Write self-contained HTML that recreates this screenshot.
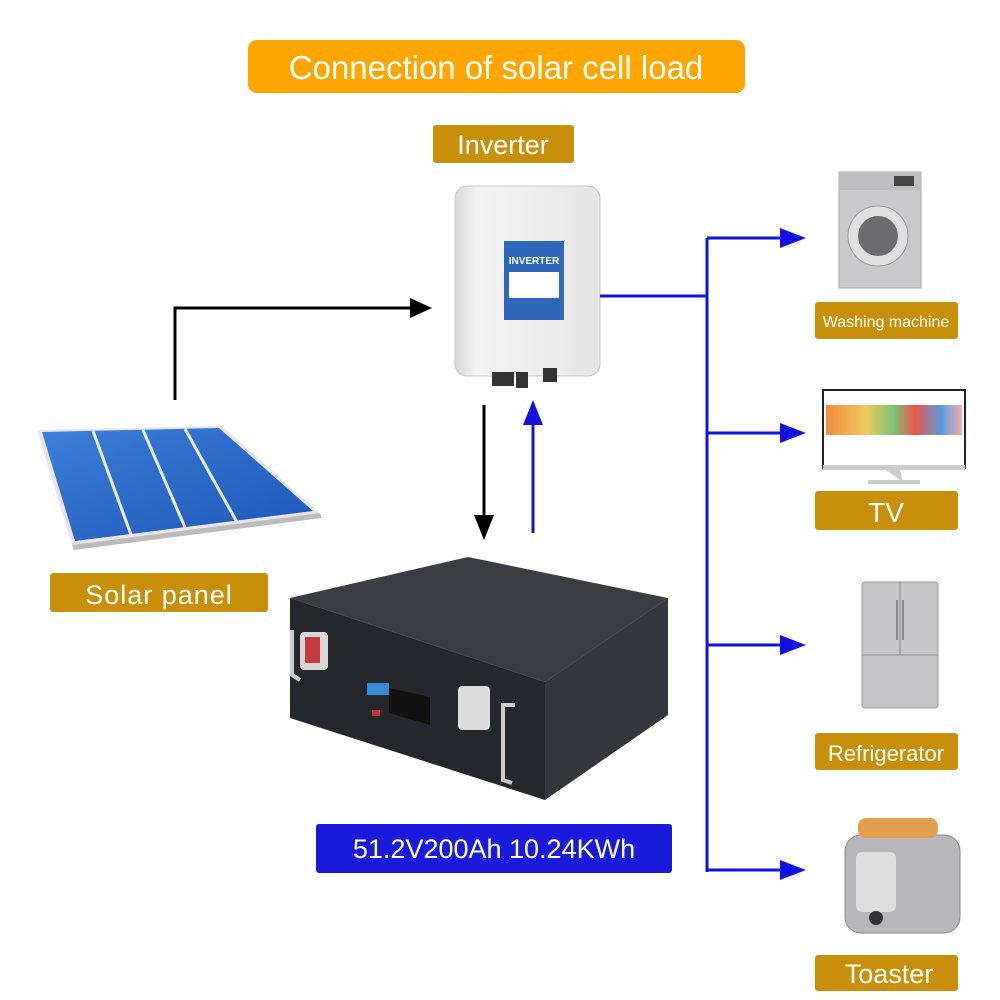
<!DOCTYPE html>
<html><head><meta charset="utf-8"><style>
html,body{margin:0;padding:0;background:#fff;}
svg{display:block;font-family:"Liberation Sans",sans-serif;}
</style></head><body>
<svg width="1000" height="1000" viewBox="0 0 1000 1000" xmlns="http://www.w3.org/2000/svg">
<defs>
<linearGradient id="pv" x1="0" y1="0" x2="1" y2="1"><stop offset="0" stop-color="#3b7fd8"/><stop offset="1" stop-color="#1d56b8"/></linearGradient>
<linearGradient id="inv" x1="0" y1="0" x2="1" y2="0"><stop offset="0" stop-color="#d8d8d8"/><stop offset="0.15" stop-color="#f2f2f2"/><stop offset="1" stop-color="#e6e6e6"/></linearGradient>
<linearGradient id="tv" x1="0" y1="0" x2="1" y2="0"><stop offset="0" stop-color="#f07a20"/><stop offset="0.3" stop-color="#e8c040"/><stop offset="0.5" stop-color="#60b860"/><stop offset="0.65" stop-color="#e83a2a"/><stop offset="0.85" stop-color="#3a8ad8"/><stop offset="1" stop-color="#f0a0a0"/></linearGradient>
</defs>

<rect x="248" y="40" width="497" height="53" rx="9" fill="#FFA500"/>
<text x="496" y="79" text-anchor="middle" font-size="33" fill="#fff">Connection of solar cell load</text>
<rect x="433" y="125" width="141" height="38" rx="3" fill="#C8900A"/>
<text x="503" y="154" text-anchor="middle" font-size="27" fill="#fff">Inverter</text>

<rect x="455" y="186" width="145" height="190" rx="12" fill="url(#inv)" stroke="#c8c8c8"/>
<rect x="492" y="372" width="22" height="14" fill="#333"/><rect x="516" y="372" width="12" height="16" fill="#333"/><rect x="543" y="368" width="14" height="14" fill="#333"/>
<rect x="504" y="241" width="60" height="79" fill="#2d69b8"/>
<text x="534" y="264" text-anchor="middle" font-size="10" font-weight="bold" fill="#fff">INVERTER</text>
<rect x="509" y="272" width="50" height="26" fill="#fff"/>

<polygon points="37,430 222,426 320,513 72,545" fill="#e6e6e6"/>
<polygon points="42,432 219,428 313,511 75,541" fill="url(#pv)"/>
<line x1="93" y1="431" x2="133" y2="540" stroke="#eee" stroke-width="3"/>
<line x1="143" y1="430" x2="187" y2="532" stroke="#eee" stroke-width="3"/>
<line x1="185" y1="429" x2="238" y2="524" stroke="#eee" stroke-width="3"/>
<polygon points="72,545 320,513 322,518 74,550" fill="#bbb"/>

<rect x="50" y="573" width="218" height="39" rx="3" fill="#C8900A"/>
<text x="159" y="604" text-anchor="middle" font-size="27" fill="#fff" letter-spacing="1">Solar panel</text>

<polyline points="175,400 175,308 428,308" fill="none" stroke="#000" stroke-width="3"/>
<polygon points="410,298 432,308 410,318" fill="#000"/>
<line x1="484" y1="405" x2="484" y2="520" stroke="#000" stroke-width="3"/>
<polygon points="474,515 484,540 494,515" fill="#000"/>
<line x1="533" y1="533" x2="533" y2="420" stroke="#1010e0" stroke-width="3"/>
<polygon points="523,425 533,400 543,425" fill="#1010e0"/>

<polygon points="290,598 468,557 668,598 545,682" fill="#3a3d42"/>
<polygon points="290,598 545,682 545,800 290,718" fill="#24272b"/>
<polygon points="545,682 668,598 668,715 545,800" fill="#34373c"/>
<rect x="300" y="632" width="28" height="38" rx="4" fill="#d8d8d8"/><rect x="305" y="637" width="15" height="26" fill="#c23a3a"/>
<rect x="458" y="686" width="32" height="44" rx="4" fill="#dcdcdc"/>
<path d="M292,630 L292,675 L300,680" fill="none" stroke="#ccc" stroke-width="4"/>
<path d="M515,705 L503,705 L503,780 L512,783" fill="none" stroke="#ccc" stroke-width="4"/>
<rect x="367" y="683" width="22" height="12" fill="#3a8ad8"/>
<polygon points="389,688 430,697 430,725 389,713" fill="#111"/>
<rect x="372" y="710" width="8" height="6" fill="#d03030"/>

<rect x="316" y="824" width="356" height="49" rx="3" fill="#1a1adb"/>
<text x="494" y="858" text-anchor="middle" font-size="27" fill="#fff">51.2V200Ah 10.24KWh</text>

<line x1="600" y1="296" x2="707" y2="296" stroke="#1010e0" stroke-width="3"/>
<line x1="707" y1="238" x2="707" y2="872" stroke="#1010e0" stroke-width="3"/>
<g stroke="#1010e0" stroke-width="3">
<line x1="707" y1="238" x2="790" y2="238"/><line x1="707" y1="433" x2="790" y2="433"/>
<line x1="707" y1="645" x2="790" y2="645"/><line x1="707" y1="870" x2="790" y2="870"/>
</g>
<g fill="#1010e0">
<polygon points="780,228 806,238 780,248"/><polygon points="780,423 806,433 780,443"/>
<polygon points="780,635 806,645 780,655"/><polygon points="780,860 806,870 780,880"/>
</g>

<rect x="839" y="172" width="82" height="116" fill="#c9c9cc" stroke="#aaa"/>
<rect x="839" y="172" width="82" height="18" fill="#bdbdc0"/>
<circle cx="878" cy="236" r="30" fill="#e0e0e0" stroke="#999"/>
<circle cx="878" cy="236" r="20" fill="#6b6b70"/>
<rect x="894" y="176" width="20" height="10" fill="#444"/>

<rect x="815" y="302" width="143" height="37" rx="3" fill="#C8900A"/>
<text x="886" y="327" text-anchor="middle" font-size="16" fill="#fff">Washing machine</text>

<rect x="823" y="390" width="142" height="78" fill="#fff" stroke="#222" stroke-width="2"/>
<rect x="826" y="405" width="136" height="30" fill="url(#tv)" opacity="0.85"/>
<rect x="823" y="465" width="142" height="5" fill="#ccc"/>
<polygon points="886,470 900,470 903,482 870,484 918,484 903,482" fill="#ccc"/>
<rect x="868" y="480" width="52" height="4" fill="#ccc"/>

<rect x="815" y="491" width="143" height="39" rx="3" fill="#C8900A"/>
<text x="886" y="522" text-anchor="middle" font-size="28" fill="#fff">TV</text>

<rect x="862" y="582" width="76" height="126" rx="3" fill="#c6c6c9" stroke="#999"/>
<line x1="900" y1="582" x2="900" y2="655" stroke="#888"/>
<line x1="862" y1="655" x2="938" y2="655" stroke="#888"/>
<rect x="896" y="600" width="2" height="40" fill="#888"/><rect x="902" y="600" width="2" height="40" fill="#888"/>

<rect x="815" y="733" width="143" height="37" rx="3" fill="#C8900A"/>
<text x="886" y="761" text-anchor="middle" font-size="22" fill="#fff">Refrigerator</text>

<rect x="845" y="835" width="115" height="98" rx="16" fill="#b8b8bc" stroke="#888"/>
<rect x="858" y="818" width="80" height="20" rx="8" fill="#e0a050"/>
<rect x="856" y="852" width="40" height="60" rx="6" fill="#ddd"/>
<circle cx="876" cy="918" r="7" fill="#333"/>

<rect x="815" y="955" width="143" height="36" rx="3" fill="#C8900A"/>
<text x="889" y="983" text-anchor="middle" font-size="27" fill="#fff">Toaster</text>
</svg>
</body></html>
